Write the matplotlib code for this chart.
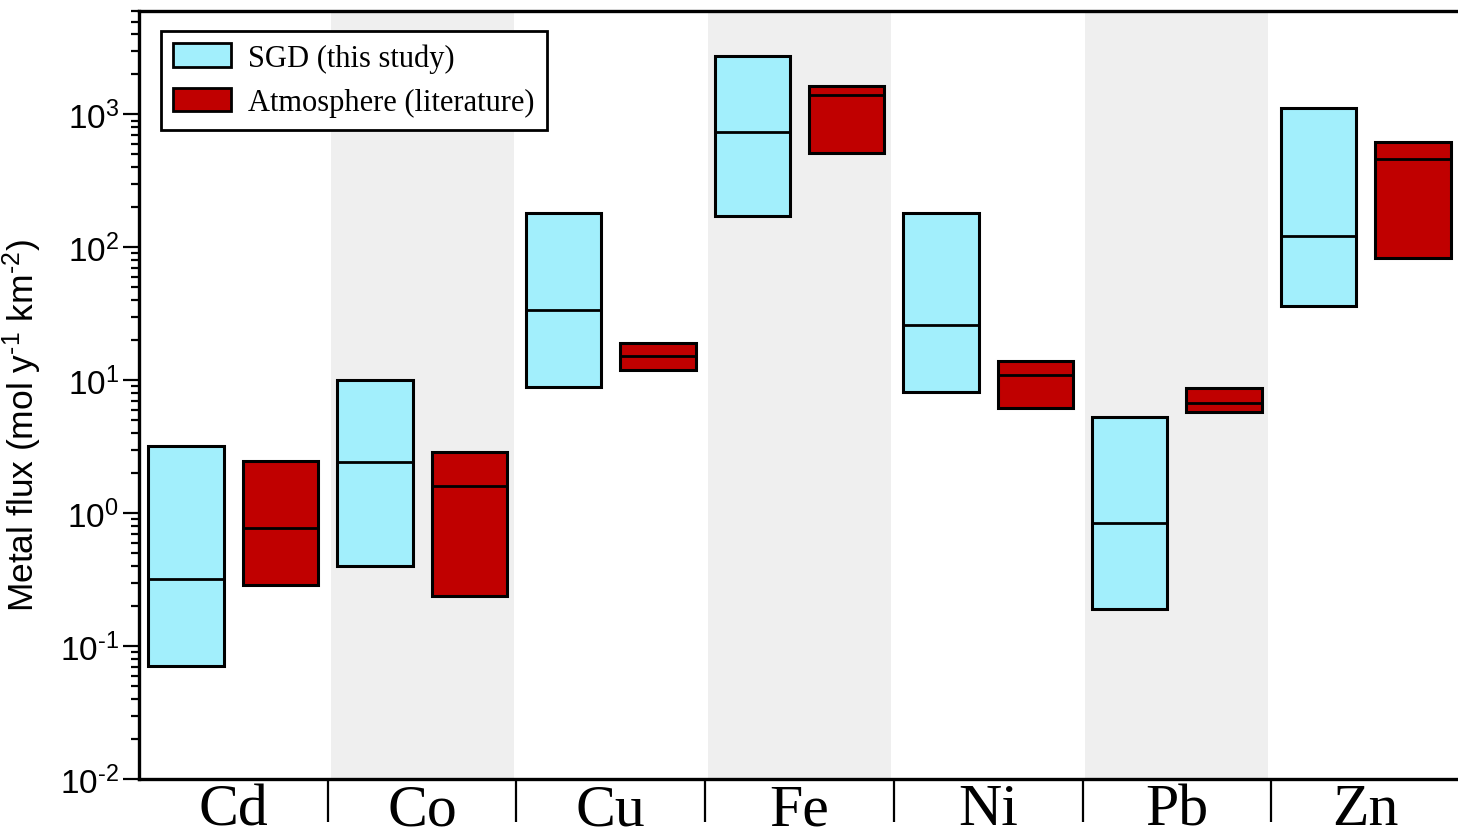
import numpy as np
import matplotlib
matplotlib.use('Agg')
import matplotlib.pyplot as plt
from matplotlib.patches import Patch
from matplotlib.ticker import FixedLocator, NullFormatter

# 金属通量 (mol y^-1 km^-2): 最小值 / 中位数 / 最大值
metals = ['Cd', 'Co', 'Cu', 'Fe', 'Ni', 'Pb', 'Zn']

sgd_min = [0.071, 0.40, 8.9, 171, 8.1, 0.19, 36]
sgd_med = [0.32, 2.42, 34, 732, 26, 0.85, 121]
sgd_max = [3.2, 10.0, 180, 2730, 180, 5.3, 1110]

atm_min = [0.29, 0.24, 11.9, 509, 6.15, 5.75, 83]
atm_med = [0.77, 1.60, 15.1, 1390, 10.9, 6.8, 459]
atm_max = [2.46, 2.88, 19.0, 1625, 13.9, 8.7, 616]

shaded = ['Co', 'Fe', 'Pb']
y_ticks = [1e-2, 1e-1, 1e0, 1e1, 1e2, 1e3]
# 上标用连字符 (U+2010) 而不是数学减号
y_ticklabels = ['10$^{\u20102}$', '10$^{\u20101}$', '10$^{0}$', '10$^{1}$', '10$^{2}$', '10$^{3}$']

plt.rcParams['font.family'] = ['Liberation Sans', 'DejaVu Sans']
plt.rcParams['mathtext.default'] = 'regular'

SGD_COLOR = '#a2effc'
ATM_COLOR = '#c00000'
BAND_COLOR = '#efefef'

fig = plt.figure(figsize=(14.58, 8.37), dpi=100)
ax = fig.add_axes([139 / 1458, 57 / 837, 1321 / 1458, 768 / 837])

x = np.arange(len(metals))
width = 0.40

# 背景灰色条带
for i, m in enumerate(metals):
    if m in shaded:
        ax.axvspan(i - 0.485, i + 0.485, color=BAND_COLOR, lw=0, zorder=0)


def draw_boxes(pos, lo, med, hi, color):
    lo = np.asarray(lo)
    hi = np.asarray(hi)
    ax.bar(pos, hi - lo, bottom=lo, width=width, color=color,
           edgecolor='black', linewidth=2.2, zorder=2)
    ax.hlines(med, pos - width / 2, pos + width / 2, colors='black',
              linewidth=2.0, zorder=3)


draw_boxes(x - 0.25, sgd_min, sgd_med, sgd_max, SGD_COLOR)
draw_boxes(x + 0.25, atm_min, atm_med, atm_max, ATM_COLOR)

ax.set_yscale('log')
ax.set_ylim(1e-2, 6000)
ax.set_xlim(-0.5, len(metals) - 0.5)

ax.yaxis.set_major_locator(FixedLocator(y_ticks))
ax.set_yticklabels(y_ticklabels, fontsize=24)
minor = [m * 10.0 ** e for e in range(-2, 4) for m in range(2, 10)]
ax.yaxis.set_minor_locator(FixedLocator(minor))
ax.yaxis.set_minor_formatter(NullFormatter())
ax.tick_params(axis='y', which='major', direction='out', length=11.5, width=1.6, pad=3)
ax.tick_params(axis='y', which='minor', direction='out', length=6, width=1.6)

# x 轴: 分隔刻度在类别之间, 标签在类别中心
ax.set_xticks(x[:-1] + 0.5)
ax.set_xticklabels([])
ax.set_xticks(x, minor=True)
ax.set_xticklabels(metals, minor=True, family='Liberation Serif', fontsize=43)
ax.tick_params(axis='x', which='major', direction='out', length=31, width=1.6)
ax.tick_params(axis='x', which='minor', length=0, pad=3)

ax.set_ylabel('Metal flux (mol y$^{\u20101}$ km$^{\u20102}$)', fontsize=25.5)
ax.yaxis.set_label_coords(-0.072, 0.461)

for side in ['left', 'bottom', 'top', 'right']:
    ax.spines[side].set_linewidth(2.4)

handles = [Patch(facecolor=SGD_COLOR, edgecolor='black', linewidth=2.0, label='SGD (this study)'),
           Patch(facecolor=ATM_COLOR, edgecolor='black', linewidth=2.0, label='Atmosphere (literature)')]
leg = ax.legend(handles=handles, loc='upper left', bbox_to_anchor=(22 / 1321, 1 - 20 / 768),
                borderaxespad=0, fancybox=False, framealpha=1, edgecolor='black',
                prop={'family': 'Liberation Serif', 'size': 22},
                handlelength=1.9, handleheight=0.8, handletextpad=0.55,
                labelspacing=0.5, borderpad=0.4)
leg.get_frame().set_linewidth(2.0)

plt.savefig('out.png', dpi=100)
